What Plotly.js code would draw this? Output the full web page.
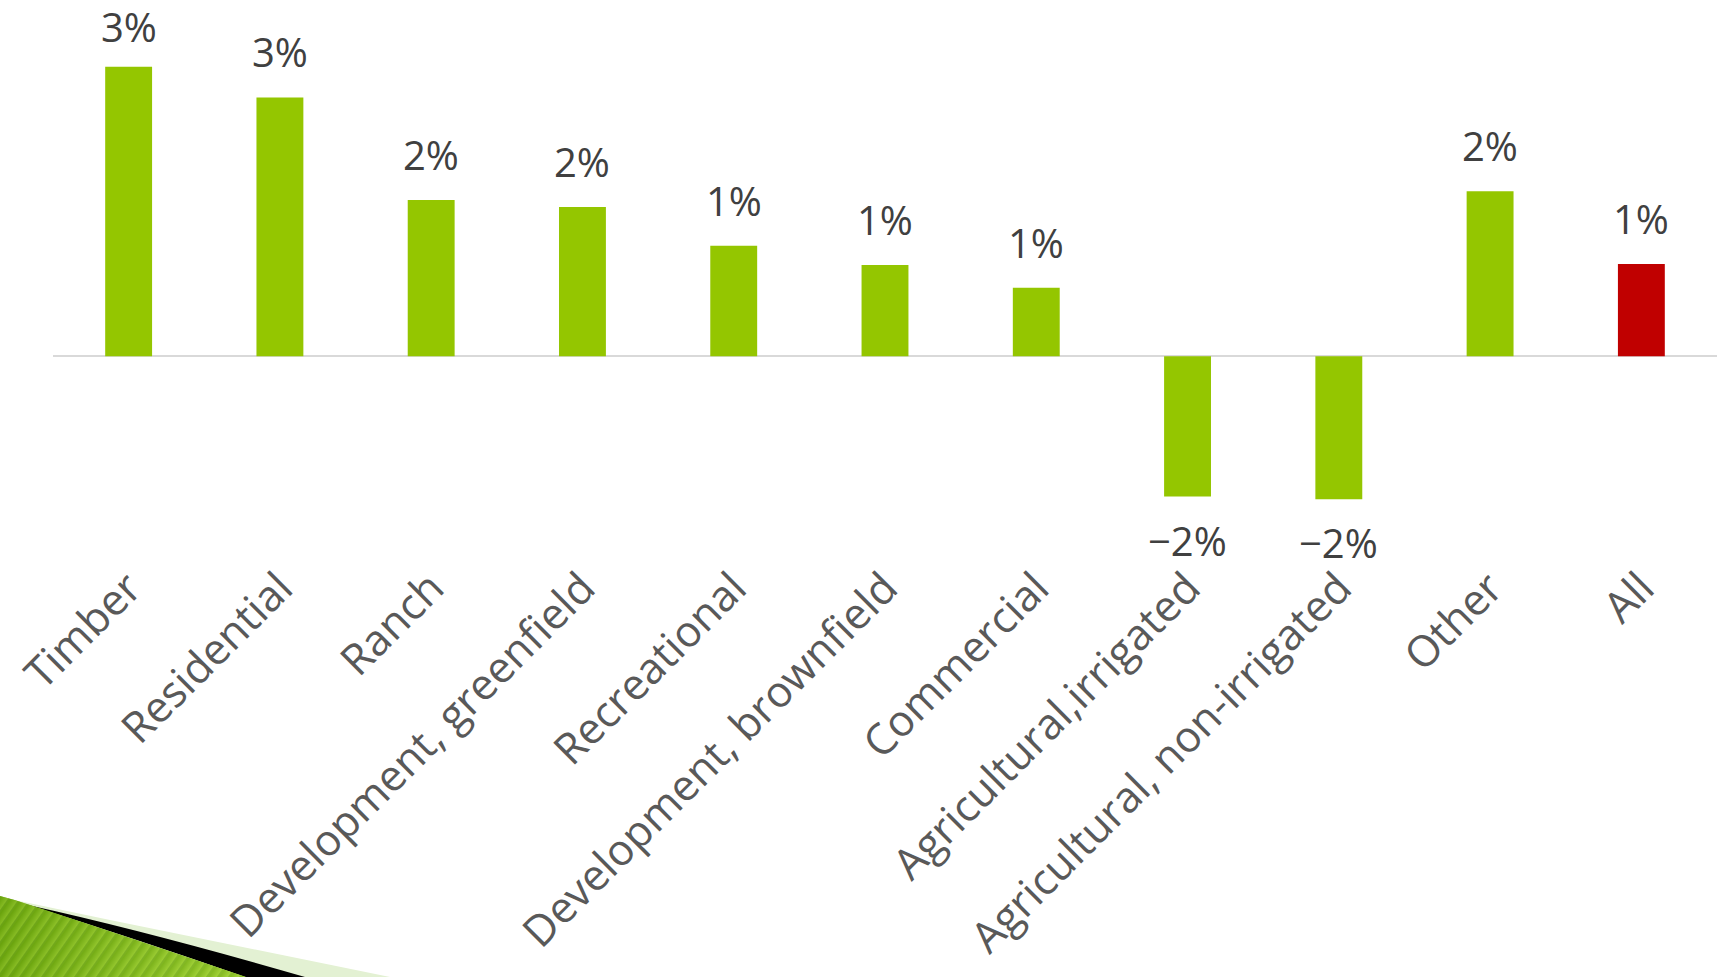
<!DOCTYPE html>
<html>
<head>
<meta charset="utf-8">
<script src="https://cdn.plot.ly/plotly-3.0.1.min.js"></script>
<style>
  html, body { margin: 0; padding: 0; background: #ffffff; overflow: hidden; }
  #chart { position: absolute; left: 0; top: 0; width: 1719px; height: 977px; }
  #deco { position: absolute; left: 0; top: 0; width: 1719px; height: 977px; pointer-events: none; }
</style>
</head>
<body>
<div id="chart"></div>
<svg id="deco" width="1719" height="977" viewBox="0 0 1719 977">
  <defs>
    <linearGradient id="g1" x1="0" y1="0" x2="1" y2="0">
      <stop offset="0" stop-color="#5f9a05"/>
      <stop offset="1" stop-color="#a6d63c"/>
    </linearGradient>
    <pattern id="stripes" width="9" height="9" patternUnits="userSpaceOnUse" patternTransform="rotate(35)">
      <rect width="9" height="9" fill="url(#g1)"/>
      <line x1="0" y1="0" x2="0" y2="9" stroke="#ffffff" stroke-opacity="0.12" stroke-width="3"/>
    </pattern>
  </defs>
  <path d="M0,897 L110,920 L390,977 L0,977 Z" fill="#e3f1d3"/>
  <path d="M28,905 Q150,932 305,977 L245,977 Q140,940 28,905 Z" fill="#000000"/>
  <path d="M0,896 Q16,900 30,905 Q140,941 246,977 L0,977 Z" fill="url(#g1)"/>
  <path d="M0,896 Q16,900 30,905 Q140,941 246,977 L0,977 Z" fill="url(#stripes)" opacity="0.55"/>
</svg>
<script>
const categories = [
  "Timber", "Residential", "Ranch", "Development, greenfield", "Recreational",
  "Development, brownfield", "Commercial", "Agricultural,irrigated",
  "Agricultural, non-irrigated", "Other", "All"
];
const changeValues = [0.033, 0.0295, 0.0178, 0.0170, 0.0126, 0.0104, 0.0078, -0.0160, -0.0163, 0.0188, 0.0105];
const barColors = ["#94c600", "#94c600", "#94c600", "#94c600", "#94c600", "#94c600", "#94c600", "#94c600", "#94c600", "#94c600", "#c00000"];

const yRange = [-0.0238, 0.0406];
const plotHeight = 565;
const labelBox = 56;

function pctLabel(v) {
  const r = Math.round(v * 100);
  return (r < 0 ? "\u2212" + Math.abs(r) : String(r)) + "%";
}

const trace = {
  type: "bar",
  x: categories,
  y: changeValues,
  marker: { color: barColors, line: { width: 0 } },
  hoverinfo: "x+y"
};

const annotations = categories.map((c, i) => {
  const v = changeValues[i];
  let shift = v >= 0 ? 16 : -14;
  if (v >= 0) {
    const barTopPx = (yRange[1] - v) / (yRange[1] - yRange[0]) * plotHeight;
    const room = barTopPx - labelBox;
    if (room < shift) shift = Math.max(room, 4);
  }
  return {
    x: c, y: v, xref: "x", yref: "y",
    text: pctLabel(v),
    showarrow: false,
    xanchor: "center",
    yanchor: v >= 0 ? "bottom" : "top",
    yshift: shift,
    font: { family: "Open Sans, sans-serif", size: 40, color: "#404040" }
  };
});

const layout = {
  width: 1719, height: 977,
  margin: { l: 53, r: 2, t: 0, b: 977 - plotHeight, pad: 0 },
  paper_bgcolor: "#ffffff",
  plot_bgcolor: "#ffffff",
  showlegend: false,
  bargap: 0.69,
  xaxis: {
    type: "category",
    tickangle: -45,
    tickfont: { family: "Open Sans, sans-serif", size: 43, color: "#595959" },
    ticklabelstandoff: -12,
    showgrid: false, showline: false, zeroline: false, ticks: "",
    automargin: false
  },
  yaxis: {
    range: yRange,
    showgrid: false, showticklabels: false, ticks: "",
    zeroline: true, zerolinecolor: "#d9d9d9", zerolinewidth: 2,
    showline: false
  },
  annotations: annotations
};

Plotly.newPlot("chart", [trace], layout, { displayModeBar: false, staticPlot: true });
</script>
</body>
</html>
